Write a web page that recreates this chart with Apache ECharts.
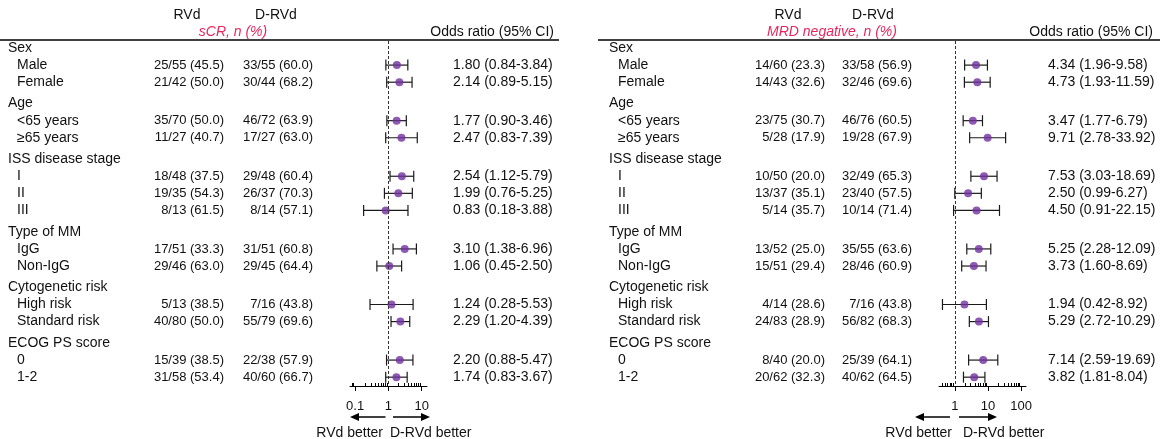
<!DOCTYPE html>
<html>
<head>
<meta charset="utf-8">
<script src="https://cdn.jsdelivr.net/npm/echarts@6/dist/echarts.min.js"></script>
<style>
  html, body { margin: 0; padding: 0; background: #ffffff; }
  #chart { width: 1165px; height: 439px; }
</style>
</head>
<body>
<div id="chart"></div>
<script>
// ---- Subgroups -------------------------------------------------------------
const groupNames = ['Sex', 'Age', 'ISS disease stage', 'Type of MM', 'Cytogenetic risk', 'ECOG PS score'];
const subgroupNames = [
  ['Male', 'Female'],
  ['<65 years', '≥65 years'],
  ['I', 'II', 'III'],
  ['IgG', 'Non-IgG'],
  ['High risk', 'Standard risk'],
  ['0', '1-2']
];

// ---- sCR: responders, patients, percent ------------------------------------
const scrRvd = [[25, 55, 45.5], [21, 42, 50.0], [35, 70, 50.0], [11, 27, 40.7], [18, 48, 37.5], [19, 35, 54.3], [8, 13, 61.5],
                [17, 51, 33.3], [29, 46, 63.0], [5, 13, 38.5], [40, 80, 50.0], [15, 39, 38.5], [31, 58, 53.4]];
const scrDrvd = [[33, 55, 60.0], [30, 44, 68.2], [46, 72, 63.9], [17, 27, 63.0], [29, 48, 60.4], [26, 37, 70.3], [8, 14, 57.1],
                 [31, 51, 60.8], [29, 45, 64.4], [7, 16, 43.8], [55, 79, 69.6], [22, 38, 57.9], [40, 60, 66.7]];
const scrOdds = [1.80, 2.14, 1.77, 2.47, 2.54, 1.99, 0.83, 3.10, 1.06, 1.24, 2.29, 2.20, 1.74];
const scrLow  = [0.84, 0.89, 0.90, 0.83, 1.12, 0.76, 0.18, 1.38, 0.45, 0.28, 1.20, 0.88, 0.83];
const scrHigh = [3.84, 5.15, 3.46, 7.39, 5.79, 5.25, 3.88, 6.96, 2.50, 5.53, 4.39, 5.47, 3.67];
const scrTicks = [0.1, 1, 10];

// ---- MRD negative: responders, patients, percent ---------------------------
const mrdRvd = [[14, 60, 23.3], [14, 43, 32.6], [23, 75, 30.7], [5, 28, 17.9], [10, 50, 20.0], [13, 37, 35.1], [5, 14, 35.7],
                [13, 52, 25.0], [15, 51, 29.4], [4, 14, 28.6], [24, 83, 28.9], [8, 40, 20.0], [20, 62, 32.3]];
const mrdDrvd = [[33, 58, 56.9], [32, 46, 69.6], [46, 76, 60.5], [19, 28, 67.9], [32, 49, 65.3], [23, 40, 57.5], [10, 14, 71.4],
                 [35, 55, 63.6], [28, 46, 60.9], [7, 16, 43.8], [56, 82, 68.3], [25, 39, 64.1], [40, 62, 64.5]];
const mrdOdds = [4.34, 4.73, 3.47, 9.71, 7.53, 2.50, 4.50, 5.25, 3.73, 1.94, 5.29, 7.14, 3.82];
const mrdLow  = [1.96, 1.93, 1.77, 2.78, 3.03, 0.99, 0.91, 2.28, 1.60, 0.42, 2.72, 2.59, 1.81];
const mrdHigh = [9.58, 11.59, 6.79, 33.92, 18.69, 6.27, 22.15, 12.09, 8.69, 8.92, 10.29, 19.69, 8.04];
const mrdTicks = [1, 10, 100];

// ---- Layout ----------------------------------------------------------------
const FONT = '"Liberation Sans", Arial, Helvetica, sans-serif';
const INK = '#111111';
const DOT = '#7030a0';
const RED = '#e8265e';
const GRID_TOP = 41, GRID_H = 345;
const Y_MIN = -0.409, Y_MAX = 19.766;
const GROUP_GAP = 0.25;

// Row positions: one unit per row, a small gap before every group header
const headerRows = [];
const itemRows = [];
(function () {
  let v = 0;
  groupNames.forEach((g, gi) => {
    if (gi) v += GROUP_GAP;
    headerRows.push({ text: g, y: v }); v += 1;
    subgroupNames[gi].forEach(s => { itemRows.push({ text: s, y: v }); v += 1; });
  });
})();

const fmtN = r => r[0] + '/' + r[1] + ' (' + r[2].toFixed(1) + ')';
const fmtOR = (o, l, h) => o.toFixed(2) + ' (' + l.toFixed(2) + '-' + h.toFixed(2) + ')';

function minorTicks(min, max) {
  const out = [];
  for (let e = -3; e <= 3; e++) {
    const d = Math.pow(10, e);
    for (let k = 2; k <= 9; k++) {
      const t = +(k * d).toPrecision(3);
      if (t > min && t < max) out.push(t);
    }
  }
  return out;
}

const panels = [
  {
    title: 'sCR, n (%)', rvd: scrRvd, drvd: scrDrvd, odds: scrOdds, low: scrLow, high: scrHigh, ticks: scrTicks,
    xMin: 0.07, xMax: 14.5, gridLeft: 350, gridW: 77,
    labelX: 8, subX: 17, rvdRight: 224, drvdRight: 313, orLeft: 453,
    rvdHead: 187, drvdHead: 276, titleX: 233, orHeadRight: 554, ruleFrom: 0, ruleTo: 559,
    oneX: 388.5, leftArrowEnd: 350, rightArrowEnd: 430, arrowGapL: 3, arrowGapR: 4.5,
    betterL: 383, betterR: 390
  },
  {
    title: 'MRD negative, n (%)', rvd: mrdRvd, drvd: mrdDrvd, odds: mrdOdds, low: mrdLow, high: mrdHigh, ticks: mrdTicks,
    xMin: 0.33, xMax: 140, gridLeft: 939, gridW: 87,
    labelX: 609, subX: 618, rvdRight: 825, drvdRight: 912, orLeft: 1048,
    rvdHead: 788, drvdHead: 873, titleX: 832, orHeadRight: 1153, ruleFrom: 598, ruleTo: 1160,
    oneX: 955, leftArrowEnd: 915, rightArrowEnd: 997, arrowGapL: 5, arrowGapR: 4,
    betterL: 952, betterR: 963
  }
];

// ---- Text items placed on the overlay grid ----------------------------------
const textItems = [];
panels.forEach(p => {
  headerRows.forEach(r => textItems.push({ x: p.labelX, y: r.y, text: r.text, align: 'left', size: 14 }));
  itemRows.forEach((r, i) => {
    textItems.push({ x: p.subX, y: r.y, text: r.text, align: 'left', size: 14 });
    textItems.push({ x: p.rvdRight, y: r.y, text: fmtN(p.rvd[i]), align: 'right', size: 13 });
    textItems.push({ x: p.drvdRight, y: r.y, text: fmtN(p.drvd[i]), align: 'right', size: 13 });
    textItems.push({ x: p.orLeft, y: r.y, text: fmtOR(p.odds[i], p.low[i], p.high[i]), align: 'left', size: 14 });
  });
});

// ---- Axes, grids, series ----------------------------------------------------
const grids = [{ left: 0, top: GRID_TOP, width: 1165, height: GRID_H }];
const xAxes = [{ type: 'value', gridIndex: 0, min: 0, max: 1165, show: false }];
const yAxes = [{ type: 'value', gridIndex: 0, min: Y_MIN, max: Y_MAX, inverse: true, show: false }];
const series = [{
  type: 'custom',
  xAxisIndex: 0, yAxisIndex: 0,
  silent: true,
  data: textItems.map(t => [t.x, t.y]),
  renderItem: (params, api) => {
    const t = textItems[params.dataIndex];
    const pt = api.coord([api.value(0), api.value(1)]);
    return {
      type: 'text', x: pt[0], y: pt[1],
      style: { text: t.text, fill: INK, font: t.size + 'px ' + FONT, align: t.align, verticalAlign: 'middle' }
    };
  }
}];

const graphics = [];

panels.forEach((p, pi) => {
  const g = pi + 1;
  grids.push({ left: p.gridLeft, top: GRID_TOP, width: p.gridW, height: GRID_H });
  const majorIdx = xAxes.length;
  xAxes.push({
    type: 'log', logBase: 10, gridIndex: g, min: p.xMin, max: p.xMax, position: 'bottom',
    axisLine: { show: true, onZero: false, lineStyle: { color: '#000', width: 1 } },
    axisTick: { show: true, customValues: p.ticks, length: 5, inside: false, lineStyle: { color: '#000', width: 1 } },
    axisLabel: { show: true, customValues: p.ticks, margin: 14, color: INK, fontSize: 13, fontFamily: FONT,
                 formatter: v => String(+(+v).toPrecision(3)) },
    splitLine: { show: false }, minorTick: { show: false }
  });
  xAxes.push({
    type: 'log', logBase: 10, gridIndex: g, min: p.xMin, max: p.xMax, position: 'bottom',
    axisLine: { show: false, onZero: false },
    axisTick: { show: true, customValues: minorTicks(p.xMin, p.xMax), length: 3, inside: true, lineStyle: { color: '#000', width: 1 } },
    axisLabel: { show: false }, splitLine: { show: false }
  });
  const yIdx = yAxes.length;
  yAxes.push({ type: 'value', gridIndex: g, min: Y_MIN, max: Y_MAX, inverse: true, show: false });

  // Confidence intervals with end caps
  series.push({
    type: 'custom', xAxisIndex: majorIdx, yAxisIndex: yIdx, silent: true, z: 2,
    data: p.odds.map((o, i) => [p.low[i], p.high[i], itemRows[i].y]),
    renderItem: (params, api) => {
      const a = api.coord([api.value(0), api.value(2)]);
      const b = api.coord([api.value(1), api.value(2)]);
      const h = 5.5;
      const st = { stroke: '#1a1a1a', lineWidth: 1.2 };
      return {
        type: 'group', children: [
          { type: 'line', shape: { x1: a[0], y1: a[1], x2: b[0], y2: b[1] }, style: st },
          { type: 'line', shape: { x1: a[0], y1: a[1] - h, x2: a[0], y2: a[1] + h }, style: st },
          { type: 'line', shape: { x1: b[0], y1: b[1] - h, x2: b[0], y2: b[1] + h }, style: st }
        ]
      };
    }
  });
  // Point estimates, with the line of no effect at OR = 1
  series.push({
    type: 'scatter', xAxisIndex: majorIdx, yAxisIndex: yIdx, silent: true, z: 3,
    symbol: 'circle', symbolSize: 8, itemStyle: { color: DOT },
    data: p.odds.map((o, i) => [o, itemRows[i].y]),
    markLine: {
      silent: true, symbol: ['none', 'none'], label: { show: false },
      lineStyle: { color: '#333', width: 1, type: [3, 2] },
      data: [{ xAxis: 1 }]
    }
  });

  // Column headings and rule
  const txt = (x, y, text, align, extra) => graphics.push({
    type: 'text', x, y, silent: true,
    style: Object.assign({ text, fill: INK, font: '14px ' + FONT, align, verticalAlign: 'middle',
                           textAlign: align, textVerticalAlign: 'middle' }, extra || {})
  });
  txt(p.rvdHead, 15, 'RVd', 'center');
  txt(p.drvdHead, 15, 'D-RVd', 'center');
  txt(p.titleX, 32, p.title, 'center', { fill: RED, font: 'italic 14px ' + FONT });
  txt(p.orHeadRight, 32, 'Odds ratio (95% CI)', 'right');
  graphics.push({ type: 'line', silent: true, shape: { x1: p.ruleFrom, y1: 40, x2: p.ruleTo, y2: 40 },
                  style: { stroke: '#000', lineWidth: 1.5 } });

  // Direction arrows under the axis
  const ay = 417;
  const lStart = p.oneX - p.arrowGapL, rStart = p.oneX + p.arrowGapR;
  graphics.push({ type: 'line', silent: true, shape: { x1: lStart, y1: ay, x2: p.leftArrowEnd + 7, y2: ay },
                  style: { stroke: '#000', lineWidth: 1.5 } });
  graphics.push({ type: 'polygon', silent: true,
                  shape: { points: [[p.leftArrowEnd, ay], [p.leftArrowEnd + 9, ay - 4], [p.leftArrowEnd + 9, ay + 4]] },
                  style: { fill: '#000' } });
  graphics.push({ type: 'line', silent: true, shape: { x1: rStart, y1: ay, x2: p.rightArrowEnd - 7, y2: ay },
                  style: { stroke: '#000', lineWidth: 1.5 } });
  graphics.push({ type: 'polygon', silent: true,
                  shape: { points: [[p.rightArrowEnd, ay], [p.rightArrowEnd - 9, ay - 4], [p.rightArrowEnd - 9, ay + 4]] },
                  style: { fill: '#000' } });
  txt(p.betterL, 433, 'RVd better', 'right');
  txt(p.betterR, 433, 'D-RVd better', 'left');
});

const chart = echarts.init(document.getElementById('chart'), null, { renderer: 'canvas' });
chart.setOption({
  backgroundColor: '#ffffff',
  animation: false,
  textStyle: { fontFamily: FONT },
  grid: grids,
  xAxis: xAxes,
  yAxis: yAxes,
  series: series,
  graphic: { elements: graphics }
});
</script>
</body>
</html>
